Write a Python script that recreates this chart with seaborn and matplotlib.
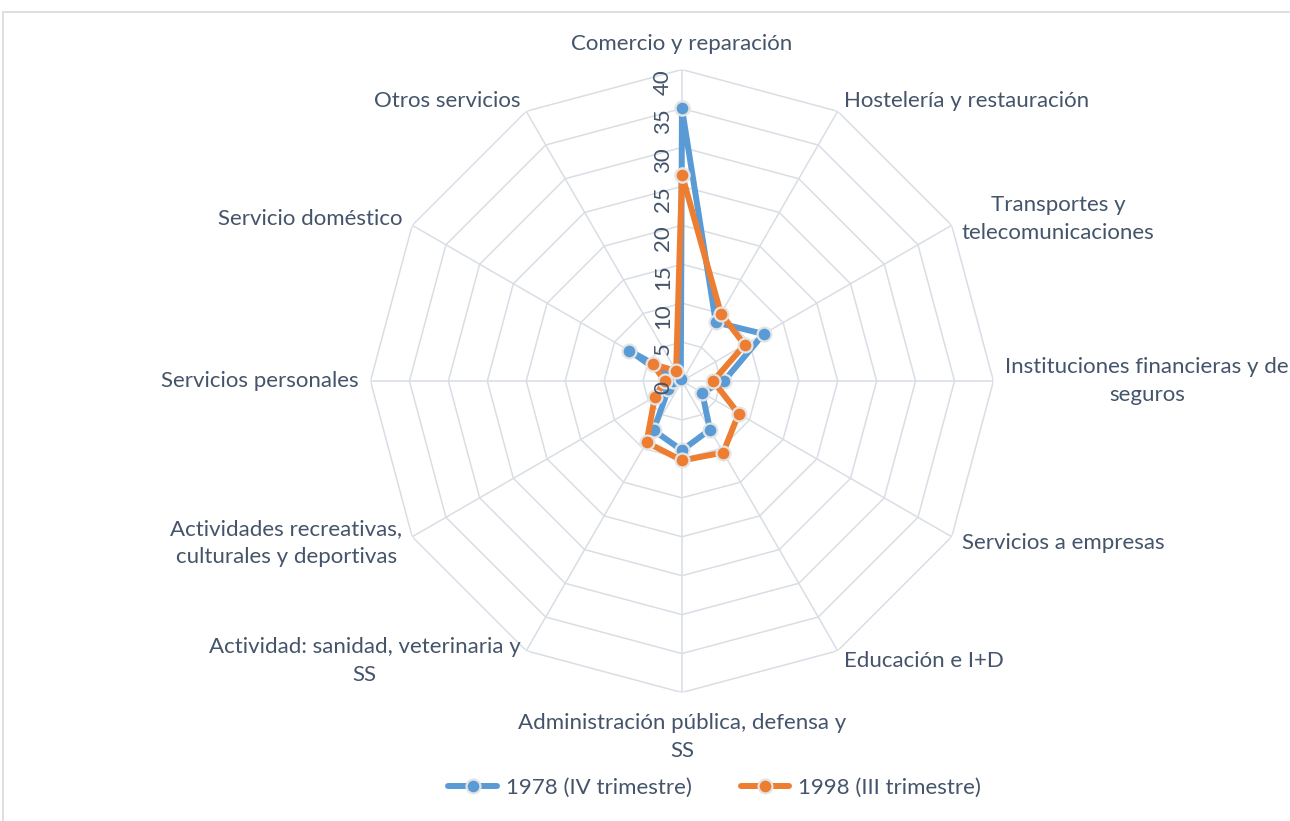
import numpy as np
import pandas as pd
import seaborn as sns
import matplotlib.pyplot as plt
from matplotlib.lines import Line2D
from matplotlib.patches import Rectangle

# Categories (clockwise from the top) and values
categorias = [
    'Comercio y reparación',
    'Hostelería y restauración',
    'Transportes y\ntelecomunicaciones',
    'Instituciones financieras y de\nseguros',
    'Servicios a empresas',
    'Educación e I+D',
    'Administración pública, defensa y\nSS',
    'Actividad: sanidad, veterinaria y\nSS',
    'Actividades recreativas,\nculturales y deportivas',
    'Servicios personales',
    'Servicio doméstico',
    'Otros servicios',
]
serie_1978 = [35.0, 8.7, 12.1, 5.4, 3.0, 7.2, 8.9, 7.3, 2.0, 1.2, 7.8, 0.3]
serie_1998 = [26.5, 10.0, 9.3, 4.0, 8.4, 10.6, 10.2, 9.1, 4.0, 2.2, 4.3, 1.5]
nombres = ['1978 (IV trimestre)', '1998 (III trimestre)']
niveles = [0, 5, 10, 15, 20, 25, 30, 35, 40]

colores = {'1978 (IV trimestre)': '#5B9BD5', '1998 (III trimestre)': '#ED7D31'}
texto = '#44546A'
rejilla = '#D9DEE5'

sns.set_style('white')
plt.rcParams['font.family'] = ['Lato', 'DejaVu Sans']

n = len(categorias)
angulos = np.arange(n) * 2 * np.pi / n

# long table, closing each polygon by repeating the first point at 2*pi
filas = []
for nombre, valores in zip(nombres, [serie_1978, serie_1998]):
    for a, v in zip(list(angulos) + [2 * np.pi], valores + valores[:1]):
        filas.append({'angulo': a, 'valor': v, 'serie': nombre})
df = pd.DataFrame(filas)

fig = plt.figure(figsize=(12.9, 8.21), dpi=100)
ax = fig.add_axes([0.2872, 0.1565, 0.4829, 0.7588], projection='polar')
ax.set_theta_zero_location('N')
ax.set_theta_direction(-1)
ax.set_ylim(0, 40)
ax.grid(False)
ax.spines['polar'].set_visible(False)
ax.set_xticks([])
ax.set_yticks([])

# polygon rings and spokes
cerrado = np.append(angulos, angulos[0])
for nv in niveles[1:]:
    ax.plot(cerrado, [nv] * len(cerrado), color=rejilla, lw=1.1, zorder=1)
for a in angulos:
    ax.plot([a, a], [0, 40], color=rejilla, lw=1.1, zorder=1)

sns.lineplot(data=df, x='angulo', y='valor', hue='serie', palette=colores,
             sort=False, estimator=None, lw=4.3, marker='o', markersize=10,
             markeredgecolor='#E4E4E4', markeredgewidth=1.6, legend=False,
             ax=ax, zorder=3)
ax.set_xlabel('')
ax.set_ylabel('')

# radial tick labels along the top spoke
for nv in niveles:
    ax.annotate(str(nv), xy=(0, nv), xytext=(-6.5, 0), textcoords='offset points',
                rotation=90, ha='right', va='top', fontsize=16, color=texto,
                zorder=4)

# category labels around the outside
for a, cat in zip(angulos, categorias):
    grados = np.degrees(a)
    if np.isclose(grados, 0):
        ha, va, r = 'center', 'bottom', 42.0
    elif np.isclose(grados, 180):
        ha, va, r = 'center', 'top', 42.6
    elif grados < 180:
        ha, va, r = 'left', 'center', 41.5
    else:
        ha, va, r = 'right', 'center', 41.5
    ax.text(a, r, cat, ha=ha, va=va, multialignment='center',
            fontsize=16, color=texto, linespacing=1.5)

# legend
manejadores = [Line2D([0], [0], color=colores[s], lw=4.3, marker='o', markersize=10,
                      markeredgecolor='#E4E4E4', markeredgewidth=1.6)
               for s in nombres]
fig.legend(manejadores, nombres, loc='center', bbox_to_anchor=(0.554, 0.04),
           ncol=2, frameon=False, fontsize=16, handlelength=2.2,
           handletextpad=0.4, columnspacing=2.2, labelcolor=texto)

# chart border
fig.patches.append(Rectangle((3 / 1290, -0.1), 1.2, 1.1 - 12.5 / 821,
                             transform=fig.transFigure, fill=False,
                             edgecolor='#D9D9D9', lw=1.2))

fig.savefig('out.png', dpi=100, facecolor='white')
